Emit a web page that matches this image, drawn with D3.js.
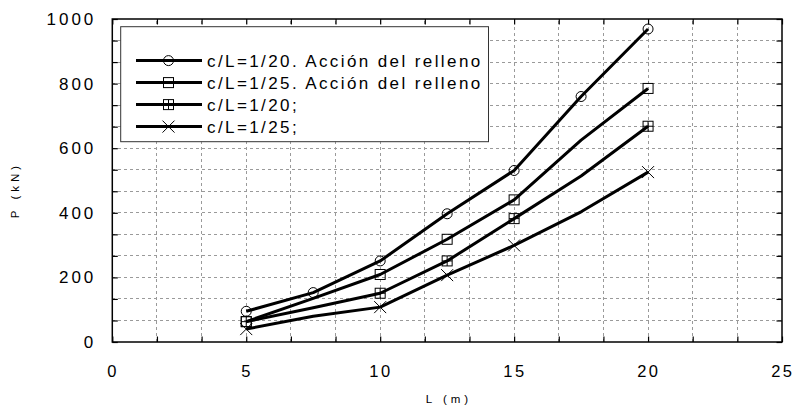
<!DOCTYPE html>
<html>
<head>
<meta charset="utf-8">
<script src="https://cdn.jsdelivr.net/npm/d3@7"></script>
<style>
  html, body { margin: 0; padding: 0; background: #fff; }
  svg { display: block; font-family: "Liberation Sans", Arial, sans-serif; }
</style>
</head>
<body>
<svg id="chart" width="793" height="408"></svg>
<script>
// Span L (m) at which each load was computed
const spans = [5, 7.5, 10, 12.5, 15, 17.5, 20];

// Load P (kN) for each case
const loadFill20 = [95, 153, 251, 397, 531, 760, 969];   // c/L=1/20 with fill action
const loadFill25 = [63, 135, 209, 318, 440, 625, 785];   // c/L=1/25 with fill action
const load20     = [63, 106, 151, 251, 382, 514, 668];   // c/L=1/20
const load25     = [40, 80, 108, 207, 299, 403, 526];    // c/L=1/25

// Spans that carry a symbol on each curve
const markedFill20 = [5, 7.5, 10, 12.5, 15, 17.5, 20];
const markedOther  = [5, 10, 12.5, 15, 20];

const seriesLabels = [
  "c/L=1/20. Acción del relleno",
  "c/L=1/25. Acción del relleno",
  "c/L=1/20;",
  "c/L=1/25;"
];
const symbols = ["circle", "square", "gridsquare", "cross"];

const xTicks = [0, 5, 10, 15, 20, 25];
const yTicks = [0, 200, 400, 600, 800, 1000];
const xTitle = "L (m)";
const yTitle = "P (kN)";

const series = [
  { label: seriesLabels[0], values: loadFill20, marked: markedFill20, symbol: symbols[0] },
  { label: seriesLabels[1], values: loadFill25, marked: markedOther,  symbol: symbols[1] },
  { label: seriesLabels[2], values: load20,     marked: markedOther,  symbol: symbols[2] },
  { label: seriesLabels[3], values: load25,     marked: markedOther,  symbol: symbols[3] }
];

const W = 793, H = 408;
const margin = { left: 112.3, top: 19, right: 11, bottom: 66 };
const x0 = margin.left, x1 = W - margin.right;
const y0 = H - margin.bottom, y1 = margin.top;

const x = d3.scaleLinear().domain([0, 25]).range([x0, x1]);
const y = d3.scaleLinear().domain([0, 1000]).range([y0, y1]);

// minor divisions: three per labelled interval
const xMinor = d3.range(0, 16).map(i => i * 25 / 15);
const yMinor = d3.range(0, 16).map(i => i * 1000 / 15);

const svg = d3.select("#chart");

// dashed grid
const grid = svg.append("g").attr("stroke", "#9a9a9a").attr("stroke-width", 1)
  .attr("stroke-dasharray", "3,3").attr("shape-rendering", "crispEdges");
grid.selectAll("line.v").data(xMinor.slice(1, -1)).join("line")
  .attr("x1", d => x(d)).attr("x2", d => x(d)).attr("y1", y0).attr("y2", y1);
grid.selectAll("line.h").data(yMinor.slice(1, -1)).join("line")
  .attr("y1", d => y(d)).attr("y2", d => y(d)).attr("x1", x0).attr("x2", x1);

// curves
const line = d3.line().x(d => x(d[0])).y(d => y(d[1]));
const plot = svg.append("g");
series.forEach(s => {
  const pts = spans.map((L, i) => [L, s.values[i]]);
  plot.append("path").datum(pts).attr("d", line)
    .attr("fill", "none").attr("stroke", "#000").attr("stroke-width", 3)
    .attr("stroke-linejoin", "round");
});

function drawSymbol(g, type, cx, cy) {
  const s = g.append("g").attr("transform", `translate(${cx},${cy})`)
    .attr("fill", "none").attr("stroke", "#000").attr("stroke-width", 1);
  const h = 5;
  if (type === "circle") {
    s.append("circle").attr("r", h);
  } else if (type === "square" || type === "gridsquare") {
    s.append("rect").attr("x", -h).attr("y", -h).attr("width", 2 * h).attr("height", 2 * h);
    if (type === "gridsquare") {
      s.append("line").attr("x1", 0).attr("x2", 0).attr("y1", -h).attr("y2", h);
      s.append("line").attr("x1", -h).attr("x2", h).attr("y1", 0).attr("y2", 0);
    }
  } else {
    const k = 6;
    s.append("line").attr("x1", -k).attr("y1", -k).attr("x2", k).attr("y2", k);
    s.append("line").attr("x1", -k).attr("y1", k).attr("x2", k).attr("y2", -k);
  }
}

series.forEach(s => {
  spans.forEach((L, i) => {
    if (s.marked.includes(L)) drawSymbol(plot, s.symbol, x(L), y(s.values[i]));
  });
});

// legend
const lg = svg.append("g");
lg.append("rect").attr("x", 120.7).attr("y", 26.7).attr("width", 367.8).attr("height", 115)
  .attr("fill", "#fff").attr("stroke", "#333").attr("stroke-width", 1);
series.forEach((s, i) => {
  const ry = 60.6 + i * 22;
  lg.append("line").attr("x1", 136).attr("x2", 202).attr("y1", ry).attr("y2", ry)
    .attr("stroke", "#000").attr("stroke-width", 3);
  drawSymbol(lg, s.symbol, 168.5, ry);
  lg.append("text").attr("x", 207).attr("y", ry).attr("dy", "0.36em")
    .attr("font-size", 17).attr("letter-spacing", 2.4).attr("fill", "#000")
    .text(s.label);
});

// axes: ticks point inward on all four sides
const tickLen = 5.5;
const fmtX = d => xTicks.includes(Math.round(d * 1000) / 1000) ? d3.format("d")(Math.round(d)) : "";
const fmtY = d => yTicks.includes(Math.round(d)) ? d3.format("d")(Math.round(d)) : "";

const axB = svg.append("g").attr("transform", `translate(0,${y0})`)
  .call(d3.axisBottom(x).tickValues(xMinor).tickSize(-tickLen).tickSizeOuter(0).tickPadding(23).tickFormat(fmtX));
const axT = svg.append("g").attr("transform", `translate(0,${y1})`)
  .call(d3.axisTop(x).tickValues(xMinor).tickSize(-tickLen).tickSizeOuter(0).tickFormat(""));
const axL = svg.append("g").attr("transform", `translate(${x0},0)`)
  .call(d3.axisLeft(y).tickValues(yMinor).tickSize(-tickLen).tickSizeOuter(0).tickPadding(16).tickFormat(fmtY));
const axR = svg.append("g").attr("transform", `translate(${x1},0)`)
  .call(d3.axisRight(y).tickValues(yMinor).tickSize(-tickLen).tickSizeOuter(0).tickFormat(""));

[axB, axT, axL, axR].forEach(a => {
  a.select(".domain").remove();
  a.selectAll(".tick line").attr("stroke", "#000").attr("stroke-width", 1.2);
  a.selectAll("text").attr("font-family", "Liberation Sans, Arial, sans-serif")
    .attr("font-size", 17).attr("letter-spacing", 3).attr("fill", "#000");
});
axB.selectAll("text").attr("font-size", 16.5).attr("letter-spacing", 2.5).attr("dx", 0.3);

// frame
svg.append("rect").attr("x", x0).attr("y", y1).attr("width", x1 - x0).attr("height", y0 - y1)
  .attr("fill", "none").attr("stroke", "#000").attr("stroke-width", 1.5);

// axis titles
svg.append("text").attr("x", 449).attr("y", 399).attr("dy", "0.36em")
  .attr("text-anchor", "middle").attr("font-size", 11.5).attr("letter-spacing", 4)
  .text(xTitle);
svg.append("text").attr("transform", "translate(15,190) rotate(-90)").attr("dy", "0.36em")
  .attr("text-anchor", "middle").attr("font-size", 11.5).attr("letter-spacing", 4)
  .text(yTitle);
</script>
</body>
</html>
